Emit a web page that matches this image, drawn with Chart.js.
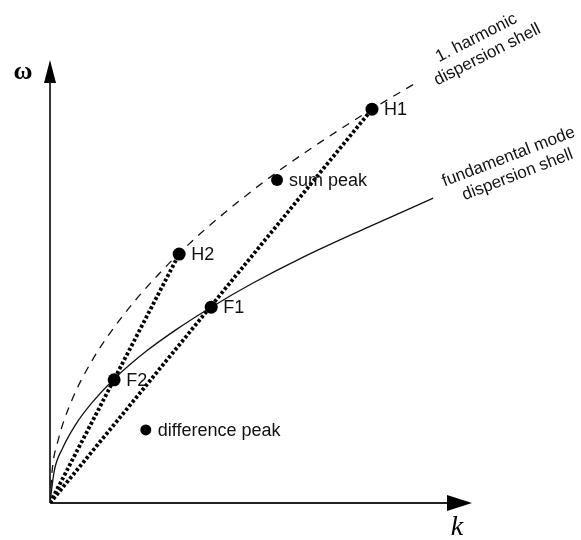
<!DOCTYPE html>
<html>
<head>
<meta charset="utf-8">
<script src="https://cdn.jsdelivr.net/npm/chart.js@4/dist/chart.umd.min.js"></script>
<style>
  body { margin: 0; background: #fff; }
  #wrap { width: 581px; height: 540px; }
</style>
</head>
<body>
<div id="wrap"><canvas id="chartDispersion"></canvas></div>
<script>
// fundamental mode dispersion shell (k, omega)
const kFond = [0, 0.1, 0.3, 0.6, 1.0, 1.52, 2.3, 3.0, 3.82, 4.8, 6.0, 7.5, 9.08];
const wFond = [0, 0.72, 1.24, 1.76, 2.27, 2.80, 3.44, 3.92, 4.42, 4.96, 5.55, 6.21, 6.88];

// 1. harmonic dispersion shell
const kHarm = [0, 0.05, 0.2, 0.5, 1.0, 1.73, 2.68, 3.55, 4.5, 5.38, 6.4, 7.63, 8.72];
const wHarm = [0, 0.72, 1.44, 2.28, 3.22, 4.23, 5.27, 6.07, 6.83, 7.47, 8.14, 8.89, 9.51];

// peaks
const nomsPics = ["H1", "sum peak", "H2", "F1", "F2", "difference peak"];
const kPics = [7.63, 5.38, 3.06, 3.82, 1.52, 2.27];
const wPics = [8.89, 7.29, 5.62, 4.42, 2.78, 1.65];
const taillePics = [6.5, 6, 6.5, 6.5, 6.5, 5.5];

const courbeLabels = [["1. harmonic", "dispersion shell"], ["fundamental mode", "dispersion shell"]];

function points(ks, ws) {
  return ks.map((k, i) => ({ x: k, y: ws[i] }));
}

const pics = points(kPics, wPics);
const origine = { x: 0, y: 0 };

const pluginAxes = {
  id: "axes",
  beforeDatasetsDraw(chart) {
    const ctx = chart.ctx;
    const xs = chart.scales.x, ys = chart.scales.y;
    const x0 = xs.getPixelForValue(0), y0 = ys.getPixelForValue(0);
    const xMax = xs.getPixelForValue(xs.max), yMax = ys.getPixelForValue(ys.max);
    ctx.save();
    ctx.strokeStyle = "#222";
    ctx.fillStyle = "#000";
    ctx.lineWidth = 1.8;
    ctx.beginPath();
    ctx.moveTo(x0, y0);
    ctx.lineTo(xMax - 10, y0);
    ctx.moveTo(x0, y0);
    ctx.lineTo(x0, yMax + 10);
    ctx.stroke();
    // arrow heads
    ctx.beginPath();
    ctx.moveTo(xMax, y0);
    ctx.lineTo(xMax - 25, y0 - 8);
    ctx.lineTo(xMax - 25, y0 + 8);
    ctx.closePath();
    ctx.fill();
    ctx.beginPath();
    ctx.moveTo(x0, yMax);
    ctx.lineTo(x0 - 6, yMax + 23);
    ctx.lineTo(x0 + 6, yMax + 23);
    ctx.closePath();
    ctx.fill();
    // axis names
    ctx.textAlign = "center";
    ctx.textBaseline = "middle";
    ctx.font = "bold 26px 'Liberation Serif'";
    ctx.fillText("ω", x0 - 27, yMax + 12);
    ctx.font = "italic 28px 'Liberation Serif'";
    ctx.fillText("k", xMax - 15, y0 + 25);
    ctx.restore();
  }
};

const pluginTextes = {
  id: "textes",
  afterDatasetsDraw(chart) {
    const ctx = chart.ctx;
    ctx.save();
    ctx.fillStyle = "#111";
    ctx.font = "18px 'Liberation Sans'";
    ctx.textBaseline = "middle";
    ctx.textAlign = "left";
    chart.getDatasetMeta(0).data.forEach((pt, i) => {
      ctx.fillText(nomsPics[i], pt.x + 12, pt.y + 1);
    });
    // curve labels, anchored at the end of each curve
    const ancres = [
      { meta: chart.getDatasetMeta(2), dx: 63, dy: -35, angle: -27 },
      { meta: chart.getDatasetMeta(1), dx: 79, dy: -32, angle: -21 }
    ];
    ctx.font = "17px 'Liberation Sans'";
    ctx.textAlign = "center";
    ancres.forEach((a, i) => {
      const fin = a.meta.data[a.meta.data.length - 1];
      ctx.save();
      ctx.translate(fin.x + a.dx, fin.y + a.dy);
      ctx.rotate(a.angle * Math.PI / 180);
      ctx.fillText(courbeLabels[i][0], 0, -10);
      ctx.fillText(courbeLabels[i][1], 2, 10);
      ctx.restore();
    });
    ctx.restore();
  }
};

new Chart(document.getElementById("chartDispersion"), {
  type: "scatter",
  data: {
    datasets: [
      {
        label: "peaks",
        data: pics,
        backgroundColor: "#000",
        borderColor: "#000",
        pointRadius: taillePics,
        pointBorderWidth: 0
      },
      {
        label: "fundamental mode",
        data: points(kFond, wFond),
        showLine: true,
        borderColor: "#111",
        borderWidth: 1.3,
        pointRadius: 0,
        cubicInterpolationMode: "monotone"
      },
      {
        label: "1. harmonic",
        data: points(kHarm, wHarm),
        showLine: true,
        borderColor: "#111",
        borderWidth: 1.3,
        borderDash: [8, 7],
        pointRadius: 0,
        cubicInterpolationMode: "monotone"
      },
      {
        label: "0-H1",
        data: [origine, pics[0]],
        showLine: true,
        borderColor: "#000",
        borderWidth: 3.8,
        borderDash: [3, 2.2],
        pointRadius: 0
      },
      {
        label: "0-H2",
        data: [origine, pics[2]],
        showLine: true,
        borderColor: "#000",
        borderWidth: 3.8,
        borderDash: [3, 2.2],
        pointRadius: 0
      }
    ]
  },
  options: {
    responsive: true,
    maintainAspectRatio: false,
    animation: false,
    layout: { padding: { left: 50, right: 109, top: 60, bottom: 37 } },
    scales: {
      x: { type: "linear", min: 0, max: 10, display: false },
      y: { type: "linear", min: 0, max: 10, display: false }
    },
    plugins: {
      legend: { display: false },
      tooltip: { enabled: false }
    }
  },
  plugins: [pluginAxes, pluginTextes]
});
</script>
</body>
</html>
